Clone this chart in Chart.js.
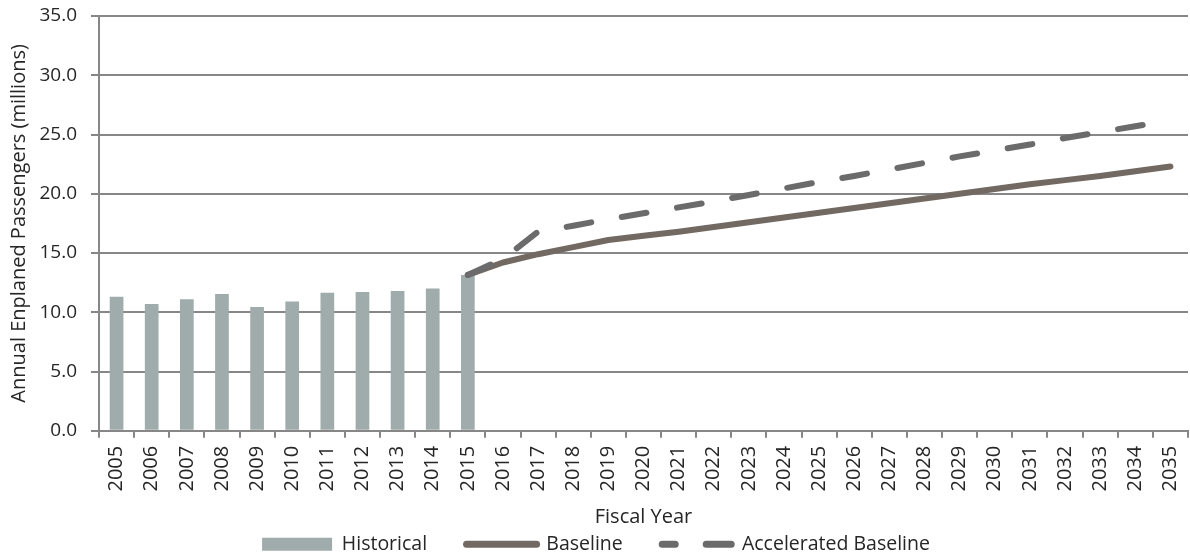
<!DOCTYPE html>
<html>
<head>
<meta charset="utf-8">
<script src="https://cdn.jsdelivr.net/npm/chart.js@4/dist/chart.umd.min.js"></script>
<style>
  html, body { margin: 0; padding: 0; background: #fff; }
  #wrap { width: 1190px; height: 557px; }
</style>
</head>
<body>
<div id="wrap"><canvas id="chart"></canvas></div>
<script>
const years = [
  "2005", "2006", "2007", "2008", "2009", "2010", "2011", "2012", "2013", "2014", "2015",
  "2016", "2017", "2018", "2019", "2020", "2021", "2022", "2023", "2024", "2025",
  "2026", "2027", "2028", "2029", "2030", "2031", "2032", "2033", "2034", "2035"
];

// actuals, 2005-2015
const historical = [11.3, 10.7, 11.1, 11.55, 10.45, 10.9, 11.65, 11.7, 11.8, 12.0, 13.15];

// forecasts, 2015-2035
const baseline = [13.15, 14.2, 14.9, 15.5, 16.1, 16.45, 16.8, 17.2, 17.6, 18.0, 18.4,
  18.8, 19.2, 19.6, 20.0, 20.4, 20.8, 21.15, 21.5, 21.9, 22.3];
const accelerated = [13.15, 14.5, 16.8, 17.3, 17.85, 18.35, 18.85, 19.35, 19.9, 20.45, 21.0,
  21.5, 22.05, 22.6, 23.15, 23.65, 24.15, 24.7, 25.2, 25.7, 26.2];

const forecastStart = years.indexOf("2015");
const pad = (arr, before) => Array(before).fill(null).concat(arr);

const gridColor = "#878787";
const textColor = "#262626";
const font = "'Open Sans', 'Noto Sans', sans-serif";

const barColor = "#a0acab";
const baseColor = "#726a62";
const accelColor = "#6b6b6b";
const dashPattern = [25, 31];

new Chart(document.getElementById("chart"), {
  data: {
    labels: years,
    datasets: [
      {
        type: "bar",
        label: "Historical",
        data: historical.concat(Array(years.length - historical.length).fill(null)),
        backgroundColor: barColor,
        barPercentage: 0.39,
        categoryPercentage: 1,
        order: 3,
      },
      {
        type: "line",
        label: "Baseline",
        data: pad(baseline, forecastStart),
        borderColor: baseColor,
        borderWidth: 6,
        borderCapStyle: "round",
        borderJoinStyle: "round",
        tension: 0,
        pointRadius: 0,
        order: 2,
      },
      {
        type: "line",
        label: "Accelerated Baseline",
        data: pad(accelerated, forecastStart),
        borderColor: accelColor,
        borderWidth: 6,
        borderDash: dashPattern,
        borderCapStyle: "round",
        borderJoinStyle: "round",
        tension: 0,
        pointRadius: 0,
        order: 1,
      },
    ],
  },
  options: {
    responsive: true,
    maintainAspectRatio: false,
    animation: false,
    layout: { padding: { top: 4, right: 2, left: 4, bottom: -7 } },
    plugins: {
      tooltip: { enabled: false },
      legend: {
        position: "bottom",
        labels: {
          font: { family: font, size: 19.5 },
          color: textColor,
          usePointStyle: true,
          pointStyleWidth: 70,
          boxHeight: 13,
          padding: 4,
          generateLabels: () => {
            // trailing spaces keep the three entries spread apart
            const gap = "       ";
            return [
              { text: "Historical" + gap, fillStyle: barColor, strokeStyle: barColor, lineWidth: 0,
                pointStyle: "rect", datasetIndex: 0, fontColor: textColor },
              { text: "Baseline" + gap, fillStyle: baseColor, strokeStyle: baseColor, lineWidth: 7,
                lineCap: "round", pointStyle: "line", datasetIndex: 1, fontColor: textColor },
              { text: "Accelerated Baseline", fillStyle: accelColor, strokeStyle: accelColor, lineWidth: 7,
                lineCap: "round", lineDash: dashPattern, lineDashOffset: 12, pointStyle: "line",
                datasetIndex: 2, fontColor: textColor },
            ];
          },
        },
      },
    },
    scales: {
      x: {
        offset: true,
        afterFit: (s) => { s.paddingRight = 0; s.paddingLeft = 0; },
        grid: {
          drawOnChartArea: false,
          drawTicks: true,
          tickLength: 7,
          color: gridColor,
          lineWidth: 2,
          offset: true,
        },
        border: { display: true, color: gridColor, width: 2 },
        ticks: {
          autoSkip: false,
          maxRotation: 90,
          minRotation: 90,
          padding: 8,
          color: textColor,
          font: { family: font, size: 20 },
        },
        title: {
          display: true,
          text: "Fiscal Year",
          color: textColor,
          font: { family: font, size: 20 },
          padding: { top: 6, bottom: 1 },
        },
      },
      y: {
        min: 0,
        max: 35,
        // keep the plot top close to the canvas edge and a fixed axis width
        afterFit: (s) => { s.paddingTop = 16; s.paddingBottom = 11; s.width = 95; },
        grid: {
          color: gridColor,
          lineWidth: 2,
          tickLength: 8,
        },
        border: { display: true, color: gridColor, width: 2 },
        ticks: {
          stepSize: 5,
          padding: 14,
          color: textColor,
          font: { family: font, size: 19 },
          callback: (v) => v.toFixed(1),
        },
        title: {
          display: true,
          text: "Annual Enplaned Passengers (millions)",
          color: textColor,
          font: { family: font, size: 20 },
          padding: { top: 3.5, bottom: 4 },
        },
      },
    },
  },
});
</script>
</body>
</html>
